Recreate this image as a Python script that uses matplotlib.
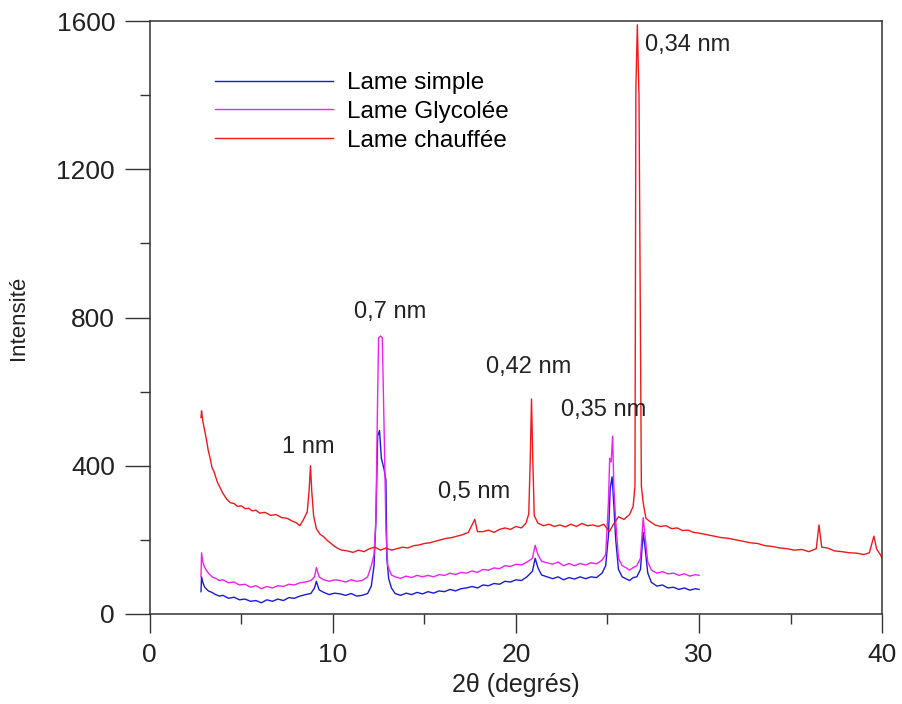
import matplotlib
matplotlib.use("Agg")
import matplotlib.pyplot as plt
from matplotlib.ticker import MultipleLocator

plt.rcParams["font.family"] = ["Liberation Sans", "DejaVu Sans"]

# Lame simple (blue)
simple_x = [2.80, 2.83, 2.9, 3.0, 3.2, 3.4, 3.6, 3.8, 4.0, 4.3, 4.6, 4.9, 5.2, 5.5, 5.8,
            6.1, 6.4, 6.7, 7.0, 7.3, 7.6, 7.9, 8.2, 8.5, 8.8, 9.0, 9.1, 9.25, 9.5, 9.8,
            10.1, 10.4, 10.7, 11.0, 11.3, 11.6, 11.9, 12.1, 12.25, 12.35, 12.45, 12.55,
            12.65, 12.8, 12.9, 12.95, 13.05, 13.2, 13.4, 13.7, 14.0, 14.3, 14.6, 14.9,
            15.2, 15.5, 15.8, 16.1, 16.4, 16.7, 17.0, 17.3, 17.6, 17.9, 18.2, 18.5, 18.8,
            19.1, 19.4, 19.7, 20.0, 20.3, 20.6, 20.9, 21.05, 21.2, 21.4, 21.7, 22.0, 22.3,
            22.6, 22.9, 23.2, 23.5, 23.8, 24.1, 24.4, 24.7, 24.9, 25.05, 25.15, 25.25,
            25.35, 25.45, 25.6, 25.8, 26.0, 26.2, 26.4, 26.6, 26.8, 26.95, 27.05, 27.2,
            27.4, 27.7, 28.0, 28.3, 28.6, 28.9, 29.2, 29.5, 29.8, 30.0]
simple_y = [60, 100, 85, 72, 62, 58, 52, 48, 50, 42, 45, 38, 40, 34, 36,
            30, 38, 34, 40, 36, 44, 42, 48, 52, 55, 70, 88, 65, 58, 52,
            56, 54, 50, 55, 48, 50, 55, 75, 130, 250, 480, 495,
            420, 390, 360, 150, 95, 70, 55, 50, 56, 52, 58, 54,
            60, 56, 62, 60, 66, 62, 68, 70, 74, 70, 78, 76, 82,
            80, 88, 86, 92, 90, 100, 115, 150, 125, 105, 100, 95, 100,
            92, 98, 94, 100, 95, 100, 98, 110, 130, 210, 340, 370,
            290, 200, 120, 100, 95, 90, 98, 100, 120, 220, 180, 110,
            85, 75, 78, 70, 72, 66, 70, 64, 68, 66]

# Lame Glycolee (magenta)
glyco_x = [2.80, 2.83, 2.9, 3.0, 3.2, 3.4, 3.6, 3.8, 4.0, 4.3, 4.6, 4.9, 5.2, 5.5, 5.8,
           6.1, 6.4, 6.7, 7.0, 7.3, 7.6, 7.9, 8.2, 8.5, 8.8, 9.0, 9.1, 9.25, 9.5, 9.8,
           10.1, 10.4, 10.7, 11.0, 11.3, 11.6, 11.9, 12.1, 12.25, 12.35, 12.45, 12.5,
           12.6, 12.7, 12.8, 12.9, 13.0, 13.2, 13.4, 13.7, 14.0, 14.3, 14.6, 14.9,
           15.2, 15.5, 15.8, 16.1, 16.4, 16.7, 17.0, 17.3, 17.6, 17.9, 18.2, 18.5, 18.8,
           19.1, 19.4, 19.7, 20.0, 20.3, 20.6, 20.9, 21.05, 21.2, 21.4, 21.7, 22.0, 22.3,
           22.6, 22.9, 23.2, 23.5, 23.8, 24.1, 24.4, 24.7, 24.9, 25.05, 25.12, 25.2,
           25.28, 25.35, 25.45, 25.6, 25.8, 26.0, 26.2, 26.4, 26.6, 26.8, 26.95, 27.05,
           27.2, 27.4, 27.7, 28.0, 28.3, 28.6, 28.9, 29.2, 29.5, 29.8, 30.0]
glyco_y = [100, 165, 140, 125, 110, 100, 96, 90, 92, 84, 86, 78, 80, 72, 76,
           68, 74, 70, 76, 74, 80, 78, 84, 86, 90, 100, 125, 100, 92, 88,
           92, 90, 86, 92, 88, 90, 100, 130, 160, 250, 600, 745,
           750, 745, 500, 230, 130, 105, 100, 96, 102, 98, 104, 100,
           104, 100, 106, 104, 110, 106, 112, 110, 116, 112, 120, 118, 124,
           122, 130, 128, 134, 132, 140, 150, 185, 160, 142, 138, 134, 140,
           130, 136, 130, 136, 132, 138, 135, 145, 160, 300, 420, 410,
           480, 340, 250, 150, 130, 125, 118, 125, 130, 150, 260, 210,
           140, 118, 110, 114, 108, 110, 104, 108, 102, 106, 104]

# Lame chauffee (red)
chauf_x = [2.8, 2.83, 2.9, 3.0, 3.1, 3.2, 3.3, 3.4, 3.5, 3.6, 3.7, 3.8, 3.9, 4.0, 4.2,
           4.4, 4.6, 4.8, 5.0, 5.2, 5.4, 5.6, 5.8, 6.0, 6.3, 6.6, 6.9, 7.2, 7.5, 7.8,
           8.0, 8.2, 8.4, 8.6, 8.7, 8.78, 8.85, 8.95, 9.1, 9.3, 9.5, 9.7, 9.9, 10.1,
           10.3, 10.5, 10.8, 11.1, 11.4, 11.7, 12.0, 12.3, 12.6, 12.9, 13.2, 13.5, 13.8,
           14.1, 14.4, 14.7, 15.0, 15.3, 15.6, 15.9, 16.2, 16.5, 16.8, 17.1, 17.4, 17.6,
           17.75, 17.9, 18.2, 18.5, 18.8, 19.1, 19.4, 19.7, 20.0, 20.3, 20.55, 20.7,
           20.78, 20.85, 20.92, 21.0, 21.2, 21.5, 21.8, 22.1, 22.4, 22.7, 23.0, 23.3,
           23.6, 23.9, 24.2, 24.5, 24.8, 25.1, 25.3, 25.6, 25.9, 26.2, 26.4, 26.5,
           26.55, 26.63, 26.72, 26.85, 26.95, 27.1, 27.3, 27.6, 27.9, 28.2, 28.5, 28.8,
           29.1, 29.4, 29.7, 30.0, 30.4, 30.8, 31.2, 31.6, 32.0, 32.4, 32.8, 33.2, 33.6,
           34.0, 34.4, 34.8, 35.2, 35.6, 36.0, 36.4, 36.55, 36.7, 37.0, 37.4, 37.8, 38.2,
           38.6, 39.0, 39.3, 39.55, 39.7, 39.9, 40.0]
chauf_y = [530, 548, 520, 495, 470, 440, 420, 395, 385, 370, 355, 345, 335, 325, 310,
           300, 298, 290, 292, 284, 285, 278, 280, 272, 274, 266, 268, 260, 258, 250,
           246, 238, 255, 275, 330, 400, 330, 265, 230, 215, 208, 198, 190, 182,
           176, 172, 170, 166, 172, 168, 176, 180, 172, 178, 172, 176, 180,
           178, 184, 186, 190, 192, 196, 200, 204, 206, 210, 214, 220, 240,
           255, 222, 222, 226, 220, 228, 232, 228, 236, 232, 245, 270,
           415, 580, 415, 265, 245, 238, 242, 236, 240, 235, 242, 236,
           244, 238, 240, 236, 242, 222, 240, 262, 255, 268, 290, 345,
           1420, 1590, 1400, 345, 300, 258, 250, 240, 236, 238, 230, 232,
           225, 226, 220, 218, 214, 210, 206, 204, 200, 196, 192, 190, 184,
           182, 178, 176, 172, 174, 168, 176, 240, 180, 178, 170, 168, 165,
           164, 160, 165, 210, 175, 160, 150]

peak_labels = ["1 nm", "0,7 nm", "0,5 nm", "0,42 nm", "0,35 nm", "0,34 nm"]
peak_label_x = [8.66, 13.15, 17.7, 20.7, 24.8, 29.4]
peak_label_y = [450, 815, 329, 666, 550, 1535]

fig = plt.figure(figsize=(9.02, 7.04), dpi=100)
ax = fig.add_axes([0.166, 0.128, 0.812, 0.842])

ax.plot(simple_x, simple_y, color="#1a1adc", lw=1.0, label="Lame simple")
ax.plot(glyco_x, glyco_y, color="#f020f0", lw=1.0, label="Lame Glycolée")
ax.plot(chauf_x, chauf_y, color="#f01818", lw=1.0, label="Lame chauffée")

for txt, tx, ty in zip(peak_labels, peak_label_x, peak_label_y):
    ax.text(tx, ty, txt, ha="center", va="center", fontsize=17, color="#222222")

ax.set_xlim(0, 40)
ax.set_ylim(0, 1600)
ax.xaxis.set_major_locator(MultipleLocator(10))
ax.xaxis.set_minor_locator(MultipleLocator(5))
ax.yaxis.set_major_locator(MultipleLocator(400))
ax.yaxis.set_minor_locator(MultipleLocator(200))
ax.tick_params(which="both", direction="out", width=1.0, color="#333333",
               labelcolor="#222222", labelsize=19)
ax.tick_params(axis="x", which="major", length=14, pad=7)
ax.tick_params(axis="y", which="major", length=18, pad=7)
ax.tick_params(which="minor", length=7.5)
for sp in ax.spines.values():
    sp.set_linewidth(1.1)
    sp.set_color("#333333")

ax.set_xlabel("2θ (degrés)", fontsize=18, color="#222222", labelpad=4)
ax.set_ylabel("Intensité", fontsize=16, color="#222222", labelpad=20)

ax.legend(loc="upper left", bbox_to_anchor=(0.089, 0.914), frameon=False,
          fontsize=17.5, handlelength=4.86, handletextpad=0.58, labelspacing=0.28,
          borderpad=0, borderaxespad=0)

plt.savefig("out.png", dpi=100)
